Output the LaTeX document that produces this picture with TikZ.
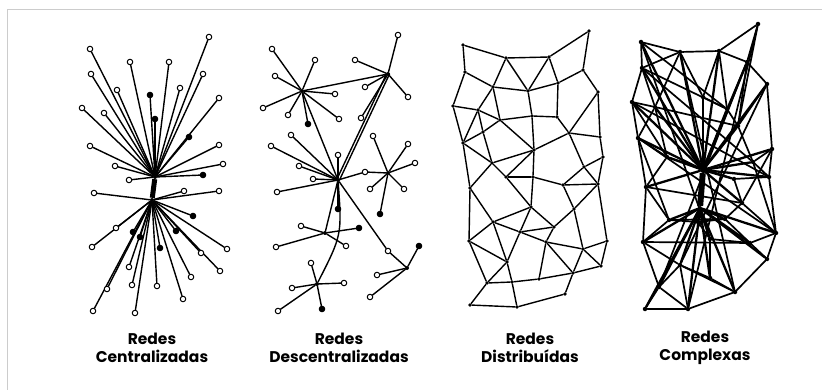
\documentclass[tikz,border=0pt]{standalone}
\usepackage{fontspec}
\setmainfont{Poppins}
\pgfdeclarelayer{bg}
\pgfsetlayers{bg,main}
\begin{document}
\begin{tikzpicture}[x=1pt,y=-1pt,
 nd/.style={circle,draw,fill=white,line width=1pt,inner sep=0pt,minimum size=5.5pt},
 fd/.style={nd,fill=black},
 hb/.style={circle,fill=black,inner sep=0pt,minimum size=4pt},
 ed/.style={line width=1.4pt,line cap=round},
 med/.style={line width=1.7pt,line cap=round},
 hed/.style={line width=2.3pt,line cap=round},
 lbl/.style={align=center,font=\fontsize{15.5}{18}\selectfont\bfseries}]
\useasboundingbox (0,0) rectangle (822,390);
\draw[black!20,line width=1pt] (7,390) -- (7,10) -- (822,10);

% ---------- Panel 1: centralized ----------
\node[hb] (ha) at (155,177) {};
\node[hb] (hbb) at (152,200) {};
\foreach \n/\x/\y/\s in {1/90/49/nd,2/209/37/nd,3/130/62/nd,4/169/62/nd,5/91/74/nd,6/203/74/nd,7/117/90/nd,8/150/95/fd,9/180/88/nd,10/219/98/nd,11/82/108/nd,12/104/113/nd,13/155/119/fd,14/189/137/fd,15/90/146/nd,16/219/145/nd,17/115/166/nd,18/223/164/nd,19/203/175/fd,20/129/180/nd}
 {\node[\s] (u\n) at (\x,\y) {};}
\foreach \n/\x/\y/\s in {21/94/193/nd,22/184/191/nd,23/219/191/nd,24/193/216/fd,25/116/228/nd,26/133/232/fd,27/176/231/fd,28/140/237/fd,29/92/247/nd,30/227/249/nd,31/160/248/fd,32/201/253/nd,33/129/267/nd,34/220/271/nd,35/191/277/nd,36/157/286/nd,37/132/285/nd,38/107/289/nd,39/183/299/nd,40/93/311/nd,41/135/313/nd}
 {\node[\s] (u\n) at (\x,\y) {};}
\begin{pgfonlayer}{bg}
\draw[line width=5pt] (ha) -- (hbb);
\foreach \n in {1,...,20} {\draw[ed] (ha) -- (u\n);}
\foreach \n in {21,...,41} {\draw[ed] (hbb) -- (u\n);}
\end{pgfonlayer}

% ---------- Panel 2: decentralized ----------
\foreach \n/\x/\y in {A/302/91,B/388/74,C/338/180,D/388/173,E/325/233,F/407/268,G/317/284}
 {\node[hb] (\n) at (\x,\y) {};}
\foreach \n/\x/\y/\s in {1/272/49/nd,2/315/60/nd,3/275/76/nd,4/335/94/nd,5/263/108/nd,6/288/115/nd,7/308/124/fd,8/339/119/nd}
 {\node[\s] (a\n) at (\x,\y) {};}
\foreach \n/\x/\y/\s in {1/398/35/nd,2/355/60/nd,3/365/87/nd,4/408/97/nd,5/361/118/nd}
 {\node[\s] (b\n) at (\x,\y) {};}
\foreach \n/\x/\y/\s in {1/291/135/nd,2/271/146/nd,3/338/155/nd,4/299/166/nd,5/313/179/nd,6/277/192/nd,7/338/209/fd}
 {\node[\s] (c\n) at (\x,\y) {};}
\node[nd] (dm) at (365,172) {};
\foreach \n/\x/\y/\s in {1/373/136/nd,2/408/144/nd,3/415/163/nd,4/370/189/nd,5/404/189/nd,6/380/214/fd}
 {\node[\s] (dd\n) at (\x,\y) {};}
\foreach \n/\x/\y/\s in {1/301/226/nd,2/359/228/fd,3/276/247/nd,4/346/246/nd}
 {\node[\s] (e\n) at (\x,\y) {};}
\foreach \n/\x/\y/\s in {1/419/246/fd,2/388/251/nd,3/377/275/nd,4/370/297/nd}
 {\node[\s] (f\n) at (\x,\y) {};}
\foreach \n/\x/\y/\s in {1/311/263/nd,2/344/283/nd,3/292/288/nd,4/278/311/nd,5/322/309/fd}
 {\node[\s] (g\n) at (\x,\y) {};}
\begin{pgfonlayer}{bg}
\foreach \n in {1,...,8} {\draw[ed] (A) -- (a\n);}
\foreach \n in {1,...,5} {\draw[ed] (B) -- (b\n);}
\foreach \n in {1,...,7} {\draw[ed] (C) -- (c\n);}
\foreach \n in {1,...,6} {\draw[ed] (D) -- (dd\n);}
\foreach \n in {1,...,4} {\draw[ed] (E) -- (e\n);}
\foreach \n in {1,3,4} {\draw[ed] (F) -- (f\n);}
\foreach \n in {1,...,5} {\draw[ed] (G) -- (g\n);}
\draw[ed] (A) -- (B);
\draw[ed] (A) -- (C);
\draw[ed] ([xshift=-1.5pt]B.center) -- ([xshift=-1.5pt]C.center);
\draw[ed] ([xshift=1.5pt]B.center) -- ([xshift=1.5pt]C.center);
\draw[ed] (C) -- (dm) -- (D);
\draw[ed] (C) -- (E);
\draw[ed] (C) .. controls (342,235) .. (G);
\draw[ed] (C) -- (f2) -- (F);
\end{pgfonlayer}

% ---------- Panel 3: distributed ----------
\foreach \n/\x/\y in {1/463/45,2/506/58,3/549/57,4/589/31,5/465/72,6/493/87,7/528/91,8/558/83,9/583/70,10/598/92,11/453/106,12/478/110,13/500/120,14/532/116,15/557/117,16/483/132,17/569/133,18/600/137,19/463/143,20/534/150,21/603/157,22/492/163,23/584/167,24/506/177,25/533/177,26/563/185,27/598/184,28/470/188,29/531/207,30/574/209,31/493/222,32/554/227,33/520/232,34/469/241,35/546/242,36/583/249,37/607/241,38/507/262,39/601/266,40/573/273,41/539/279,42/512/282,43/487/283,44/565/294,45/470/305,46/517/307}
 {\node[hb,minimum size=3.8pt] (d\n) at (\x,\y) {};}
\begin{pgfonlayer}{bg}
\foreach \a/\b in {1/2,2/3,3/4,4/9,1/5,5/6,5/11,2/6,2/7,3/7,3/8,8/9,9/10,6/7,7/8,6/12,6/13,11/12,11/19,12/13,12/16,13/14,14/15,7/14,8/15,15/17,10/17,10/18,13/20,14/20,16/19,16/22,17/20,17/18,17/23,18/21,21/23,21/27,19/28,20/22,20/25,22/24,22/28,23/26,24/25,25/26,26/27,24/29,25/29,26/30,27/30,27/37,28/31,28/34,29/31,29/32,30/32,30/36,31/33,31/34,32/33,32/35,33/38,34/38,34/43,35/36,35/41,36/37,36/39,37/39,38/42,39/40,40/41,40/44,41/42,42/43,42/46,43/45,43/38,45/46,46/44,33/35,12/19,16/13,20/24,23/27,29/33,31/38,35/40,36/40,19/22}
 {\draw[ed] (d\a) -- (d\b);}
\end{pgfonlayer}

% ---------- Panel 4: complex ----------
\node[hb,minimum size=6pt] (H) at (703,170) {};
\node[hb] (H2) at (700,208) {};
\foreach \n/\x/\y in {1/641/42,2/680/52,3/719/51,4/758/24,5/642/68,6/747/62,7/767/84,8/632/102,9/655/107,10/727/109,11/703/97,12/638/138,13/738/126,14/772/149,15/667/157,16/753/162,17/646/187,18/734/179,19/769/177,20/669/220,21/698/222,22/725/219,23/742/203,24/643/242,25/710/239,26/776/233,27/680/265,28/750/243,29/767/259,30/659/287,31/710/278,32/735/292,33/645/309,34/688/309}
 {\node[hb,minimum size=4.5pt] (m\n) at (\x,\y) {};}
\begin{pgfonlayer}{bg}
\draw[line width=6pt] (H) -- (H2);
\foreach \a/\b in {1/2,2/3,3/4,4/6,6/7,1/5,5/8,8/12,12/17,17/24,24/30,30/33,33/34,34/32,32/29,29/26,26/19,19/14,14/7,2/5,2/9,3/6,3/10,5/9,8/9,9/15,9/12,10/13,6/13,7/13,13/16,14/16,16/19,15/17,15/12,17/20,18/19,18/23,23/26,20/24,20/21,21/22,22/23,22/28,21/25,25/28,28/29,24/27,27/30,27/31,25/31,31/32,30/34,27/34,28/26,1/10,4/13,6/10,2/11,3/11,11/10,1/25,4/34,6/30,7/27,2/32,5/16,8/19,12/26,5/10,9/13,15/18,17/23,20/22,24/28,27/32,8/15,12/20,14/23,16/26}
 {\draw[med] (m\a) -- (m\b);}
\foreach \n in {1,2,3,5,6,7,8,9,10,11,12,13,14,15,16,17,18,19,23} {\draw[hed] (H) -- (m\n);}
\foreach \n in {20,21,22,24,25,26,27,28,29,30,31,32,33,34} {\draw[hed] (H2) -- (m\n);}
\end{pgfonlayer}

% ---------- Labels ----------
\node[lbl] (t1) at (152,348) {Redes\\Centralizadas};
\node[lbl] (t2) at (339,348) {Redes\\Descentralizadas};
\node[lbl] (t3) at (530,348) {Redes\\Distribuídas};
\node[lbl] (t4) at (705,348) {Redes\\Complexas};
\end{tikzpicture}
\end{document}
